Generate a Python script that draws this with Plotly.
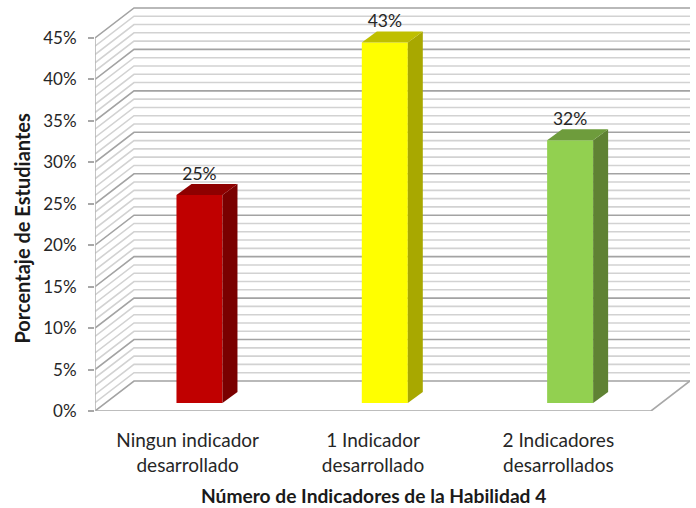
import plotly.graph_objects as go

categories = ["Ningun indicador<br>desarrollado", "1 Indicador<br>desarrollado", "2 Indicadores<br>desarrollados"]
values = [25.1, 43.5, 31.7]
labels = ["25%", "43%", "32%"]
front_colors = ["#C00000", "#FFFF00", "#92D050"]
top_colors = ["#8E0000", "#BFBF00", "#6E9C3C"]
side_colors = ["#7A0000", "#A8A800", "#5F8233"]
y_ticks = [0, 5, 10, 15, 20, 25, 30, 35, 40, 45]
grid_levels = list(range(0, 46))
x_title = "<b>Número de Indicadores de la Habilidad 4</b>"
y_title = "<b>Porcentaje de Estudiantes</b>"

# Chart geometry in axis units
W, H = 696, 508
L, R, T, B = 95, 690, 7, 411
PX_X = 185.33
PX_Y = 8.29
X0 = -0.5
X_FRONT_END = 2.5
X_MAX = X0 + (R - L) / PX_X
Y_MAX = (B - T) / PX_Y
DEPTH_X = 39 / PX_X
DEPTH_Y = 30 / PX_Y
BAR_W = 46 / PX_X
BAR_SHIFT = 11.8 / PX_X
BAR_BASE = 8 / PX_Y
BAR_DX = 15 / PX_X
BAR_DY = 11 / PX_Y

fig = go.Figure()

def line(xs, ys, color, width):
    fig.add_trace(go.Scatter(x=xs, y=ys, mode="lines", line=dict(color=color, width=width),
                             hoverinfo="skip", showlegend=False))

# Minor, then major gridlines along the left wall and back wall
for v in grid_levels:
    if v % 5:
        line([X0, X0 + DEPTH_X, X_MAX], [v, v + DEPTH_Y, v + DEPTH_Y], "#D2D2D2", 1.6)
for v in grid_levels:
    if v % 5 == 0:
        line([X0, X0 + DEPTH_X, X_MAX], [v, v + DEPTH_Y, v + DEPTH_Y], "#A3A3A3", 1.6)

# Floor edges and front wall edge
line([X0, X_FRONT_END, X_MAX], [0, 0, DEPTH_Y], "#A8A8A8", 1.6)
line([X0, X0], [0, 45], "#B5B5B5", 1.6)

# Bars sit on an overlaid axis pair so they cover the gridlines
xs = [i + BAR_SHIFT for i in range(len(values))]
tops = [v + BAR_BASE for v in values]
fig.add_trace(go.Bar(x=xs, y=values, base=BAR_BASE, width=BAR_W,
                     marker=dict(color=front_colors, line=dict(width=0)),
                     xaxis="x2", yaxis="y2", hoverinfo="skip", showlegend=False))

for x, v, tc, sc in zip(xs, tops, top_colors, side_colors):
    xr = x + BAR_W / 2
    xl = x - BAR_W / 2
    fig.add_trace(go.Scatter(x=[xr, xr + BAR_DX, xr + BAR_DX, xr, xr],
                             y=[BAR_BASE, BAR_BASE + BAR_DY, v + BAR_DY, v, BAR_BASE],
                             mode="lines", fill="toself", fillcolor=sc, line=dict(width=0),
                             xaxis="x2", yaxis="y2", hoverinfo="skip", showlegend=False))
    fig.add_trace(go.Scatter(x=[xl, xr, xr + BAR_DX, xl + BAR_DX, xl],
                             y=[v, v, v + BAR_DY, v + BAR_DY, v],
                             mode="lines", fill="toself", fillcolor=tc, line=dict(width=0),
                             xaxis="x2", yaxis="y2", hoverinfo="skip", showlegend=False))

# Data labels
fig.add_trace(go.Scatter(x=xs, y=[v + BAR_DY for v in tops], mode="text", text=labels,
                         textposition="top center",
                         textfont=dict(family="Lato", size=17.5, color="#262626"),
                         xaxis="x2", yaxis="y2", hoverinfo="skip", showlegend=False, cliponaxis=False))

fig.update_layout(
    width=W, height=H, autosize=False,
    margin=dict(l=L, r=W - R, t=T, b=H - B, pad=0),
    paper_bgcolor="white", plot_bgcolor="white",
    font=dict(family="Lato", color="#262626"),
    showlegend=False,
    xaxis=dict(range=[X0, X_MAX], tickmode="array", tickvals=[0, 1, 2], ticktext=categories,
               showgrid=False, zeroline=False, showline=False, ticks="outside", ticklen=12,
               tickcolor="rgba(0,0,0,0)",
               tickfont=dict(family="Lato", size=19, color="#262626")),
    yaxis=dict(range=[0, Y_MAX], tickmode="array", tickvals=y_ticks,
               ticktext=[f"{t}%" for t in y_ticks],
               showgrid=False, zeroline=False, showline=False,
               ticks="outside", ticklen=6, tickcolor="#A8A8A8", tickwidth=1.5,
               ticklabelstandoff=8,
               tickfont=dict(family="Lato", size=17, color="#262626")),
    xaxis2=dict(range=[X0, X_MAX], overlaying="x", visible=False),
    yaxis2=dict(range=[0, Y_MAX], overlaying="y", visible=False),
    annotations=[
        dict(text=x_title, xref="x", x=1, yref="paper", y=0, yanchor="middle", yshift=-84,
             showarrow=False, font=dict(family="Lato", size=19.2, color="#1A1A1A")),
        dict(text=y_title, xref="paper", x=0, xanchor="center", xshift=-73, yref="y", y=22,
             yanchor="middle", textangle=-90,
             showarrow=False, font=dict(family="Lato", size=20, color="#1A1A1A")),
    ],
)
fig.write_html("out.html", config={"displayModeBar": False},
               post_script="document.body.style.margin='0';")
